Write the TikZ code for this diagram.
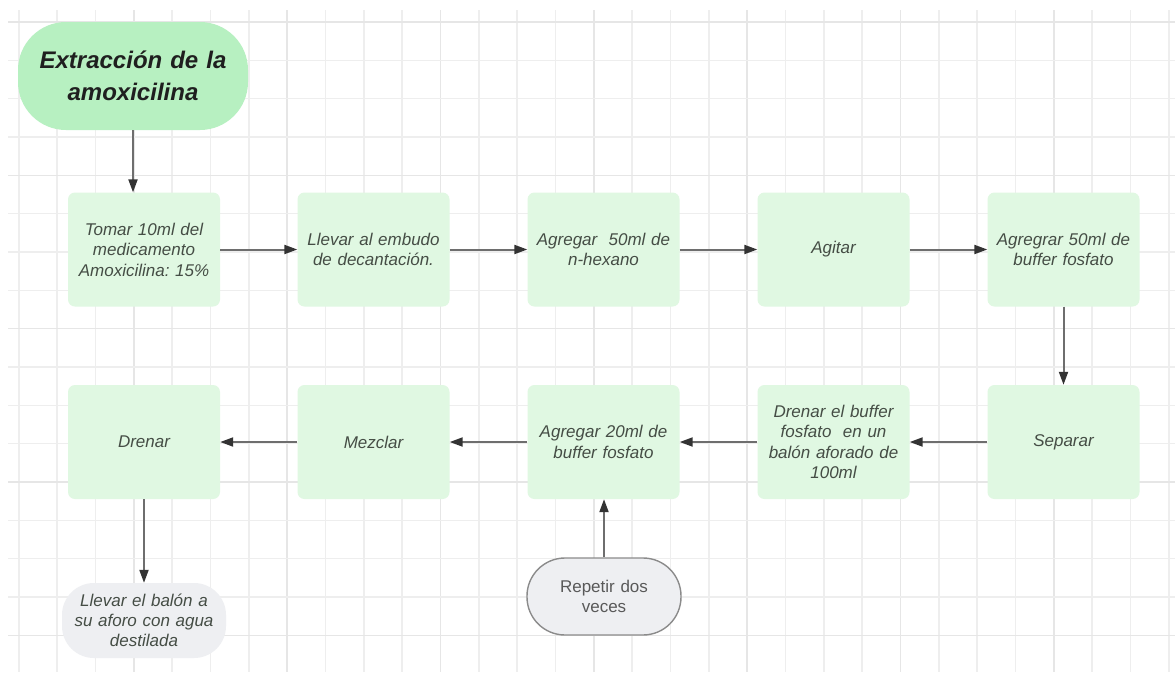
\documentclass[tikz,border=0pt]{standalone}
\usepackage{fontspec}
\setmainfont{Liberation Sans}
\usetikzlibrary{arrows.meta}
\frenchspacing

\definecolor{startgreen}{HTML}{B7F0C1}
\definecolor{boxgreen}{HTML}{E0F8E2}
\definecolor{softgray}{HTML}{EEEFF2}
\definecolor{txtgray}{HTML}{454D45}
\definecolor{linegray}{HTML}{6E6E6E}
\definecolor{tipgray}{HTML}{333333}
\definecolor{gridminor}{HTML}{EEEEEE}
\definecolor{gridmajor}{HTML}{E6E6E6}

\tikzset{
  stepbox/.style={rectangle, rounded corners=7pt, fill=boxgreen,
    minimum width=152pt, minimum height=114pt, text width=148pt,
    align=center, inner sep=0pt, text=txtgray,
    font=\itshape\fontsize{17}{20.5}\selectfont},
  startbox/.style={rectangle, rounded corners=48pt, fill=startgreen,
    minimum width=230pt, minimum height=108pt, text width=220pt,
    align=center, inner sep=0pt, text=black!88,
    font=\bfseries\itshape\fontsize{24}{32}\selectfont},
  endbox/.style={rectangle, rounded corners=32pt, fill=softgray,
    minimum width=152pt, minimum height=75pt, text width=164pt,
    align=center, inner sep=0pt, text=txtgray,
    font=\itshape\fontsize{17}{20}\selectfont},
  loopbox/.style={rectangle, rounded corners=38pt, fill=softgray,
    draw=linegray!80, line width=1.4pt,
    minimum width=154pt, minimum height=77pt, text width=140pt,
    align=center, inner sep=0pt, text=black!65,
    font=\fontsize{17}{20}\selectfont},
  flow/.style={draw=linegray, line width=2pt,
    -{Triangle[length=13pt,width=9pt,color=tipgray]}}
}

\begin{document}
\begin{tikzpicture}[x=1pt,y=-1pt]
  \useasboundingbox (0,0) rectangle (1175,672);
  \fill[white] (0,0) rectangle (1175,672);

  % background grid, slightly heavier line every fourth step
  \foreach \k in {0,...,30}{
    \pgfmathsetmacro{\gx}{18.7+38.333*\k}
    \pgfmathtruncatemacro{\mj}{mod(\k+1,4)==0}
    \ifnum\mj=1
      \draw[gridmajor, line width=1.6pt] (\gx,10) -- (\gx,672);
    \else
      \draw[gridminor, line width=1.6pt] (\gx,10) -- (\gx,672);
    \fi
  }
  \foreach \k in {0,...,16}{
    \pgfmathsetmacro{\gy}{22+38.333*\k}
    \pgfmathtruncatemacro{\mj}{mod(\k,4)==0}
    \ifnum\mj=1
      \draw[gridmajor, line width=1.6pt] (8,\gy) -- (1175,\gy);
    \else
      \draw[gridminor, line width=1.6pt] (8,\gy) -- (1175,\gy);
    \fi
  }

  % start
  \node[startbox] (start) at (133,76) {Extracción de la\\amoxicilina};

  % first row
  \node[stepbox] (tomar)   at (144,249.5)   {Tomar 10ml del\\medicamento\\Amoxicilina: 15\%};
  \node[stepbox] (llevar)  at (373.5,249.5) {Llevar al embudo\\de decantación.};
  \node[stepbox] (hexano)  at (603.5,249.5) {Agregar\ \ 50ml de\\n-hexano};
  \node[stepbox] (agitar)  at (833.5,249.5) {Agitar};
  \node[stepbox] (buffer)  at (1063.5,249.5) {Agregrar 50ml de\\buffer fosfato};

  % second row
  \node[stepbox] (separar) at (1063.5,442) {Separar};
  \node[stepbox] (drenarb) at (833.5,442) {Drenar el buffer\\fosfato\ \ en un\\balón aforado de\\100ml};
  \node[stepbox] (veinte)  at (603.5,442) {Agregar 20ml de\\buffer fosfato};
  \node[stepbox] (mezclar) at (373.5,442) {Mezclar};
  \node[stepbox] (drenar)  at (144,442) {Drenar};

  % ends
  \node[endbox]  (aforo)   at (144,620.5) {Llevar el balón a\\su aforo con agua\\destilada};
  \node[loopbox] (repetir) at (604,596.5) {Repetir dos\\veces};

  % connectors
  \draw[flow] (start.south) -- (start.south |- tomar.north);
  \draw[flow] (tomar) -- (llevar);
  \draw[flow] (llevar) -- (hexano);
  \draw[flow] (hexano) -- (agitar);
  \draw[flow] (agitar) -- (buffer);
  \draw[flow] (buffer) -- (separar);
  \draw[flow] (separar) -- (drenarb);
  \draw[flow] (drenarb) -- (veinte);
  \draw[flow] (veinte) -- (mezclar);
  \draw[flow] (mezclar) -- (drenar);
  \draw[flow] (drenar) -- (aforo);
  \draw[flow] (repetir.north) -- (repetir.north |- veinte.south);
\end{tikzpicture}
\end{document}
